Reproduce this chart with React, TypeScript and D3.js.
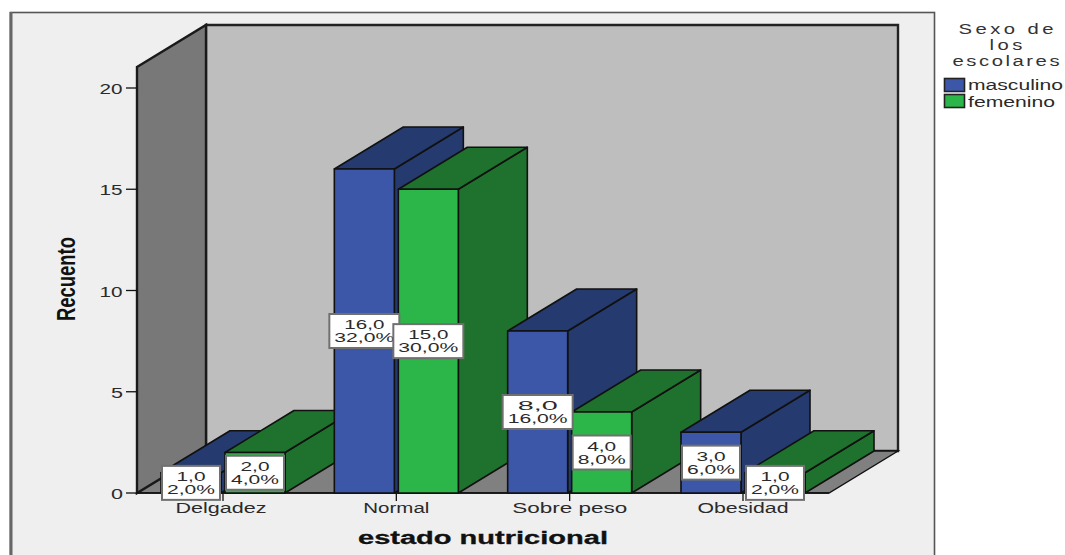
import React from "react";
import * as d3 from "d3";

// Counts of schoolchildren per nutritional state
const categories = ["Delgadez", "Normal", "Sobre peso", "Obesidad"];
const masculino = [1, 16, 8, 3];
const femenino = [2, 15, 4, 1];
const masculinoPct = ["2,0%", "32,0%", "16,0%", "6,0%"];
const femeninoPct = ["4,0%", "30,0%", "8,0%", "2,0%"];
const yTicks = [0, 5, 10, 15, 20];
const legendTitle = ["Sexo de", "los", "escolares"];
const seriesNames = ["masculino", "femenino"];

const FONT = "'Liberation Sans', Arial, sans-serif";
const INK = "#111";
const TEXT = "#2a2a2a";
const DEPTH_X = 69;
const DEPTH_Y = -42;
const BAR_W = 60;

const y = d3.scaleLinear().domain([0, 20]).range([493, 88]);
const x = d3.scalePoint<string>().domain(categories).range([223, 743]);

const poly = (pts: [number, number][]) => {
  const p = d3.path();
  pts.forEach(([a, b], i) => (i ? p.lineTo(a, b) : p.moveTo(a, b)));
  p.closePath();
  return p.toString();
};

const palette = [
  { front: "#3d57a8", side: "#253a6e", top: "#253a6e" },
  { front: "#2cb548", side: "#1e722d", top: "#1e722d" },
];

function Label(props: any) {
  const { cx, cy, size, length, children, ...rest } = props;
  return (
    <text
      x={cx}
      y={cy}
      textAnchor="middle"
      fontFamily={FONT}
      fontSize={size}
      fill={TEXT}
      textLength={length}
      lengthAdjust="spacingAndGlyphs"
      {...rest}
    >
      {children}
    </text>
  );
}

function Bar({ left, value, colors }: { left: number; value: number; colors: (typeof palette)[0] }) {
  const top = y(value);
  const base = y(0);
  const right = left + BAR_W;
  const edge = { stroke: INK, strokeWidth: 1.6, strokeLinejoin: "round" as const };
  return (
    <g>
      <path
        d={poly([[right, top], [right + DEPTH_X, top + DEPTH_Y], [right + DEPTH_X, base + DEPTH_Y], [right, base]])}
        fill={colors.side}
        {...edge}
      />
      <path
        d={poly([[left, top], [left + DEPTH_X, top + DEPTH_Y], [right + DEPTH_X, top + DEPTH_Y], [right, top]])}
        fill={colors.top}
        {...edge}
      />
      <rect x={left} y={top} width={BAR_W} height={base - top} fill={colors.front} {...edge} />
    </g>
  );
}

function ValueBox({ cx, value, pct }: { cx: number; value: number; pct: string }) {
  const cy = (y(value) + y(0)) / 2;
  const wide = pct.length > 4;
  const w = wide ? 70 : 58;
  const h = 34;
  return (
    <g>
      <rect x={cx - w / 2} y={cy - h / 2} width={w} height={h} fill="#fff" stroke="#707070" strokeWidth={2} />
      <Label cx={cx} cy={cy - 2} size={13} length={wide ? 40 : 29}>
        {value.toFixed(1).replace(".", ",")}
      </Label>
      <Label cx={cx} cy={cy + 11} size={13} length={wide ? 60 : 48}>
        {pct}
      </Label>
    </g>
  );
}

export default function App() {
  const floorY = y(0);
  const x0 = 137;
  const x1 = 829;
  const wallTop = 67;
  return (
    <svg
      width={1065}
      height={555}
      viewBox="0 0 1065 555"
      style={{ position: "absolute", left: 0, top: 0, background: "#fff" }}
    >
      <rect x={10.5} y={12.5} width={924} height={600} fill="#efefef" stroke="#555" strokeWidth={1.6} />
      <line x1={11} x2={11} y1={12} y2={555} stroke="#666" strokeWidth={3} />

      {/* Box walls and floor */}
      <path
        d={poly([[x0 + DEPTH_X, wallTop + DEPTH_Y], [x1 + DEPTH_X, wallTop + DEPTH_Y], [x1 + DEPTH_X, floorY + DEPTH_Y], [x0 + DEPTH_X, floorY + DEPTH_Y]])}
        fill="#bebebe"
        stroke="#222"
        strokeWidth={2.4}
      />
      <path
        d={poly([[x0, floorY], [x0 + DEPTH_X, floorY + DEPTH_Y], [x1 + DEPTH_X, floorY + DEPTH_Y], [x1, floorY]])}
        fill="#808080"
        stroke={INK}
        strokeWidth={1.4}
      />
      <path
        d={poly([[x0, wallTop], [x0 + DEPTH_X, wallTop + DEPTH_Y], [x0 + DEPTH_X, floorY + DEPTH_Y], [x0, floorY]])}
        fill="#787878"
        stroke="#1a1a1a"
        strokeWidth={2.4}
      />

      {/* Value axis */}
      {yTicks.map((t) => (
        <g key={t}>
          <line x1={126} x2={x0} y1={y(t)} y2={y(t)} stroke={INK} strokeWidth={1.3} />
          <Label cx={t < 10 ? 117 : 111} cy={y(t) + 6} size={14} length={t < 10 ? 12 : 23}>
            {t}
          </Label>
        </g>
      ))}
      <line x1={x0} x2={x1} y1={floorY} y2={floorY} stroke={INK} strokeWidth={1.6} />

      {/* Bars, painted left to right so nearer faces cover farther ones */}
      {categories.map((c, i) => {
        const cx = x(c) as number;
        return (
          <g key={c}>
            <line x1={cx} x2={cx} y1={floorY} y2={floorY + 8} stroke={INK} strokeWidth={1.3} />
            <Bar left={cx - 62} value={masculino[i]} colors={palette[0]} />
            <Bar left={cx + 2} value={femenino[i]} colors={palette[1]} />
          </g>
        );
      })}

      {/* Value boxes */}
      {categories.map((c, i) => {
        const cx = x(c) as number;
        return (
          <g key={c}>
            <ValueBox cx={cx - 32} value={masculino[i]} pct={masculinoPct[i]} />
            <ValueBox cx={cx + 32} value={femenino[i]} pct={femeninoPct[i]} />
          </g>
        );
      })}

      {/* Category labels */}
      {categories.map((c, i) => (
        <Label key={c} cx={(x(c) as number) - (i === 0 ? 2 : 0)} cy={513} size={14} length={[91, 66, 115, 91][i]}>
          {c}
        </Label>
      ))}

      {/* Axis titles */}
      <Label cx={483} cy={544} size={18} length={250} fontWeight="bold" fill="#111" stroke="#111" strokeWidth={0.3}>
        estado nutricional
      </Label>
      <Label
        cx={0}
        cy={0}
        size={26}
        length={84}
        fontWeight="bold"
        fill="#111"
        transform="translate(75,279) rotate(-90)"
      >
        Recuento
      </Label>

      {/* Legend, heading widened and letter-spaced */}
      {legendTitle.map((t, i) => (
        <g key={t} transform={`translate(1006,${34 + i * 16}) scale(1.35,1)`}>
          <Label cx={0} cy={0} size={15} length={[95, 33, 107][i] / 1.35} lengthAdjust="spacing" fill="#333">
            {t}
          </Label>
        </g>
      ))}
      {seriesNames.map((s, i) => (
        <g key={s}>
          <rect x={944.5} y={78.5 + i * 16} width={20} height={13} fill={palette[i].front} stroke="#222" strokeWidth={1.6} />
          <text
            x={968}
            y={90 + i * 17}
            fontFamily={FONT}
            fontSize={14}
            fill={TEXT}
            textLength={i === 0 ? 95 : 87}
            lengthAdjust="spacingAndGlyphs"
          >
            {s}
          </text>
        </g>
      ))}
    </svg>
  );
}
